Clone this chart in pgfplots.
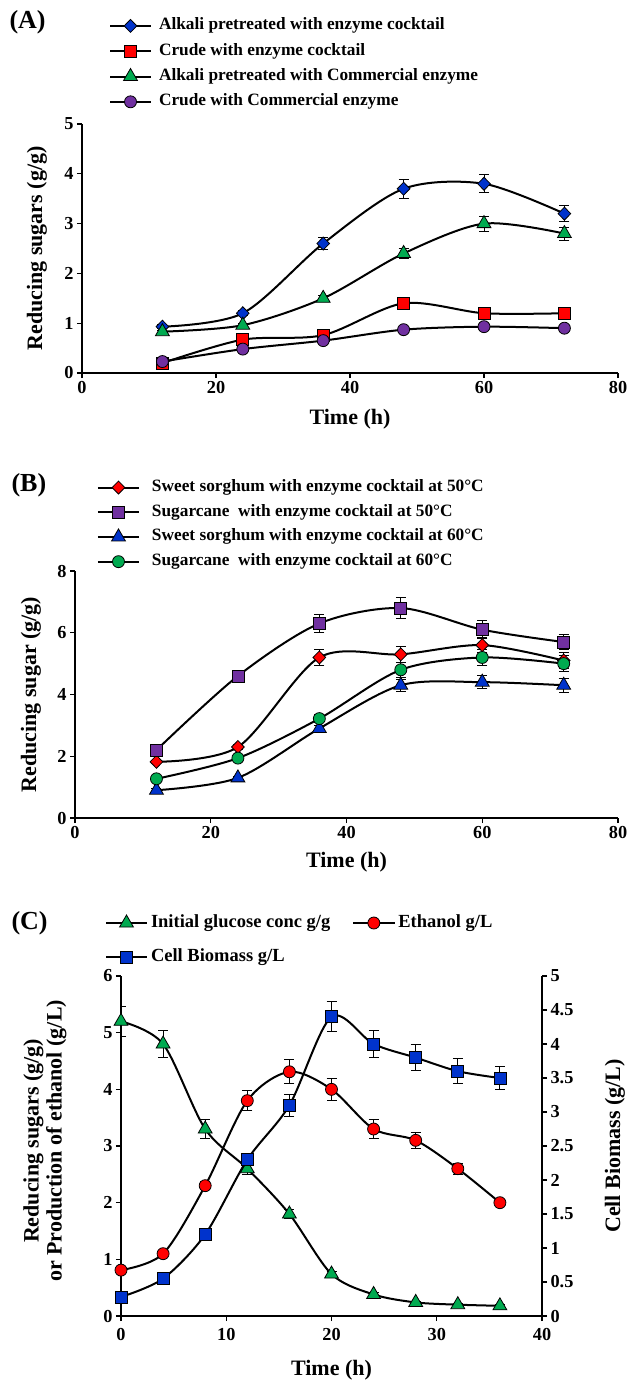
\documentclass[border=0pt]{standalone}
\usepackage{fontspec}
\setmainfont{Liberation Serif}
\usepackage{pgfplots}
\pgfplotsset{compat=1.18}
\definecolor{xblue}{RGB}{0,51,204}
\definecolor{xred}{RGB}{255,0,0}
\definecolor{xgreen}{RGB}{0,170,80}
\definecolor{xpurple}{RGB}{112,48,160}
\newcommand{\tickfont}{\bfseries\fontsize{18.3}{21}\selectfont}
\newcommand{\legfont}{\bfseries\fontsize{17.3}{20}\selectfont}
\newcommand{\legfontC}{\bfseries\fontsize{18.5}{21}\selectfont}
\newcommand{\labfont}{\bfseries\fontsize{22}{23}\selectfont}
\pgfplotsset{
 base/.style={
  scale only axis,
  axis x line*=bottom, axis y line*=left,
  axis line style={line width=1.2pt,-},
  tick align=outside, major tick length=5pt,
  tick style={line width=1.2pt, black},
  /pgf/number format/assume math mode=true,
  tick label style={font=\tickfont},
  label style={font=\labfont},
  legend style={draw=none, fill=none, font=\legfont, inner sep=0pt, outer sep=0pt,
    nodes={inner sep=0pt, text height=12pt, text depth=4.2pt}, anchor=north west},
  legend cell align=left,
  legend image code/.code={\draw[mark repeat=2,mark phase=2] plot coordinates {(0pt,0pt) (20.5pt,0pt) (41pt,0pt)};},
  every axis plot/.append style={line width=2pt, black, smooth, tension=0.5},
  error bars/y dir=both, error bars/y explicit,
  error bars/error mark options={rotate=90, mark size=5pt, line width=1pt, black},
  error bars/error bar style={line width=1pt, black},
 },
 mdia/.style={mark=diamond*, mark size=6.5pt, mark options={fill=#1, draw=black, line width=0.8pt, solid, xscale=1.3}},
 msq/.style={mark=square*, mark size=6pt, mark options={fill=#1, draw=black, line width=0.8pt, solid}},
 mtri/.style={mark=triangle*, mark size=8pt, mark options={fill=#1, draw=black, line width=0.8pt, solid}},
 mcir/.style={mark=*, mark size=6pt, mark options={fill=#1, draw=black, line width=0.8pt, solid}},
}
\begin{document}
\begin{tikzpicture}
\useasboundingbox (0pt,0pt) rectangle (628pt,-1380pt);
% ---------------- Panel A
\node[anchor=west, font=\bfseries\fontsize{26}{27}\selectfont] at (6pt,-22pt) {(A)};
\begin{axis}[base, at={(82pt,-373pt)}, anchor=south west, width=536pt, height=249pt,
  xmin=0, xmax=80, ymin=0, ymax=5, xtick={0,20,40,60,80}, ytick={0,1,2,3,4,5},
  xlabel={Time (h)}, ylabel={Reducing sugars (g/g)},
  xlabel style={at={(axis description cs:0.5,-0.187)}, anchor=center},
  ylabel style={at={(axis description cs:-0.084,0.5)}, anchor=center},
  legend style={at={(axis description cs:0.0504,1.4265)}, row sep=9.1pt, column sep=7pt}]
\addplot[mdia=xblue] table[y error=e] {
x y e
12 0.93 0.04
24 1.2 0.05
36 2.6 0.13
48 3.7 0.19
60 3.8 0.18
72 3.2 0.16
};
\addlegendentry{Alkali pretreated with enzyme cocktail}
\addplot[msq=xred] table[y error=e] {
x y e
12 0.2 0.03
24 0.67 0.04
36 0.76 0.04
48 1.4 0.05
60 1.2 0.05
72 1.2 0.04
};
\addlegendentry{Crude with enzyme cocktail}
\addplot[mtri=xgreen] table[y error=e] {
x y e
12 0.83 0.03
24 0.96 0.04
36 1.5 0.06
48 2.4 0.11
60 3.0 0.15
72 2.8 0.13
};
\addlegendentry{Alkali pretreated with Commercial enzyme}
\addplot[mcir=xpurple] table[y error=e] {
x y e
12 0.23 0.02
24 0.48 0.03
36 0.65 0.04
48 0.87 0.04
60 0.93 0.04
72 0.9 0.04
};
\addlegendentry{Crude with Commercial enzyme}
\end{axis}
% ---------------- Panel B
\node[anchor=west, font=\bfseries\fontsize{26}{27}\selectfont] at (8pt,-485pt) {(B)};
\begin{axis}[base, at={(75pt,-818pt)}, anchor=south west, width=543pt, height=247pt,
  xmin=0, xmax=80, ymin=0, ymax=8, xtick={0,20,40,60,80}, ytick={0,2,4,6,8},
  xlabel={Time (h)}, ylabel={Reducing sugar (g/g)},
  xlabel style={at={(axis description cs:0.5,-0.178)}, anchor=center},
  ylabel style={at={(axis description cs:-0.081,0.5)}, anchor=center},
  legend style={at={(axis description cs:0.0405,1.3706)}, row sep=8.5pt, column sep=12pt}]
\addplot[mdia=xred] table[y error=e] {
x y e
12 1.82 0.05
24 2.3 0.08
36 5.2 0.27
48 5.3 0.27
60 5.6 0.25
72 5.1 0.25
};
\addlegendentry{Sweet sorghum with enzyme cocktail at 50°C}
\addplot[msq=xpurple] table[y error=e] {
x y e
12 2.2 0.06
24 4.6 0.1
36 6.3 0.3
48 6.8 0.33
60 6.1 0.3
72 5.7 0.25
};
\addlegendentry{Sugarcane\ \ with enzyme cocktail at 50°C}
\addplot[mtri=xblue] table[y error=e] {
x y e
12 0.9 0.04
24 1.3 0.05
36 2.9 0.1
48 4.3 0.2
60 4.4 0.22
72 4.3 0.22
};
\addlegendentry{Sweet sorghum with enzyme cocktail at 60°C}
\addplot[mcir=xgreen] table[y error=e] {
x y e
12 1.27 0.05
24 1.94 0.07
36 3.22 0.12
48 4.8 0.25
60 5.2 0.25
72 5.0 0.25
};
\addlegendentry{Sugarcane\ \ with enzyme cocktail at 60°C}
\end{axis}
% ---------------- Panel C
\node[anchor=west, font=\bfseries\fontsize{26}{27}\selectfont] at (8pt,-923pt) {(C)};
\begin{axis}[base, at={(121pt,-1316pt)}, anchor=south west, width=421pt, height=340pt,
  xmin=0, xmax=40, ymin=0, ymax=6, xtick={0,10,20,30,40}, ytick={0,1,2,3,4,5,6},
  xticklabel style={yshift=-4pt},
  xlabel={Time (h)}, ylabel={Reducing sugars (g/g)\\or Production of ethanol (g/L)},
  xlabel style={at={(axis description cs:0.5,-0.159)}, anchor=center},
  ylabel style={at={(axis description cs:-0.1805,0.515)}, anchor=center, align=center},
  legend columns=2,
  legend style={at={(axis description cs:-0.038,1.1816)}, font=\legfontC,
    nodes={inner sep=0pt, text height=13pt, text depth=4.5pt},
    row sep=16.5pt, column sep=3pt,
    /tikz/every even column/.append style={column sep=22pt}}]
\addplot[mtri=xgreen] table[y error=e] {
x y e
0 5.2 0.27
4 4.8 0.24
8 3.3 0.16
12 2.6 0.1
16 1.8 0.08
20 0.74 0.05
24 0.38 0.03
28 0.24 0.02
32 0.2 0.02
36 0.18 0.02
};
\addlegendentry{Initial glucose conc g/g}
\addplot[mcir=xred] table[y error=e] {
x y e
0 0.81 0.03
4 1.1 0.04
8 2.3 0.07
12 3.8 0.18
16 4.31 0.21
20 4.0 0.2
24 3.3 0.16
28 3.1 0.14
32 2.6 0.1
36 2.0 0.05
};
\addlegendentry{Ethanol g/L}
\addlegendimage{msq=xblue, line width=2pt, black}
\addlegendentry{Cell Biomass g/L}
\end{axis}
\begin{axis}[base, at={(121pt,-1316pt)}, anchor=south west, width=421pt, height=340pt,
  axis x line=none, axis y line*=right,
  xmin=0, xmax=40, ymin=0, ymax=5, ytick={0,0.5,1,1.5,2,2.5,3,3.5,4,4.5,5},
  ylabel={Cell Biomass (g/L)},
  ylabel style={at={(axis description cs:1.1734,0.5)}, anchor=center}]
\addplot[msq=xblue] table[y error=e] {
x y e
0 0.28 0.02
4 0.55 0.03
8 1.2 0.04
12 2.3 0.06
16 3.1 0.16
20 4.4 0.22
24 4.0 0.2
28 3.8 0.19
32 3.6 0.18
36 3.5 0.17
};
\end{axis}
\end{tikzpicture}
\end{document}
